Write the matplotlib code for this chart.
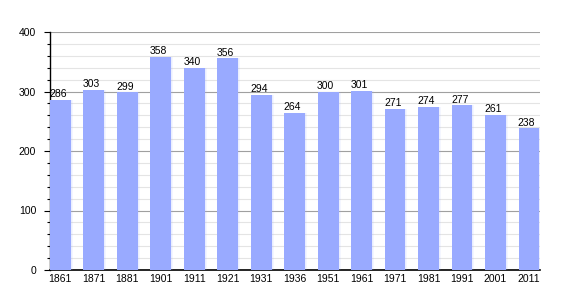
import matplotlib
matplotlib.use("Agg")
import matplotlib.pyplot as plt
import numpy as np

years = ["1861", "1871", "1881", "1901", "1911", "1921", "1931", "1936",
         "1951", "1961", "1971", "1981", "1991", "2001", "2011"]
population = [286, 303, 299, 358, 340, 356, 294, 264, 300, 301, 271, 274, 277, 261, 238]

plt.rcParams['font.family'] = ['Liberation Sans', 'DejaVu Sans']

fig = plt.figure(figsize=(5.7, 3.0), dpi=100)
ax = fig.add_axes([50/570, 30/300, 490/570, 238/300])

x = np.arange(len(years))
w = 0.62
ax.bar(x, population, width=w, color='#99aaff', zorder=3)
# soft right edge
for off, a in [(0.0, 0.35), (0.03, 0.2), (0.06, 0.1)]:
    ax.bar(x + w/2 - 0.015 + off, population, width=0.03, color='#99aaff', alpha=a, zorder=3)

for xi, v in zip(x, population):
    ax.text(xi - w/2 - 0.02, v + 1, str(v), ha='left', va='bottom', fontsize=7.5, zorder=4)

ax.set_xlim(-w/2, len(years) - 1 + w/2 + 0.02)
ax.set_ylim(0, 400)
ax.set_xticks(x)
ax.set_xticklabels(years, fontsize=7.5)
ax.set_yticks([0, 100, 200, 300, 400])
ax.set_yticks(np.arange(0, 401, 20), minor=True)
ax.tick_params(axis='y', labelsize=7.5, length=4, width=0.8, direction='out', pad=6)
ax.tick_params(axis='y', which='minor', length=2, width=0.8)
ax.tick_params(axis='x', length=0, pad=3)

ax.grid(axis='y', which='major', color='#a0a0a0', linewidth=0.8, zorder=1)
ax.grid(axis='y', which='minor', color='#e4e4e4', linewidth=0.8, zorder=0)
for s in ['top', 'right']:
    ax.spines[s].set_visible(False)
ax.spines['left'].set_linewidth(1)
ax.spines['bottom'].set_linewidth(1.2)

fig.savefig("out.png", dpi=100)
